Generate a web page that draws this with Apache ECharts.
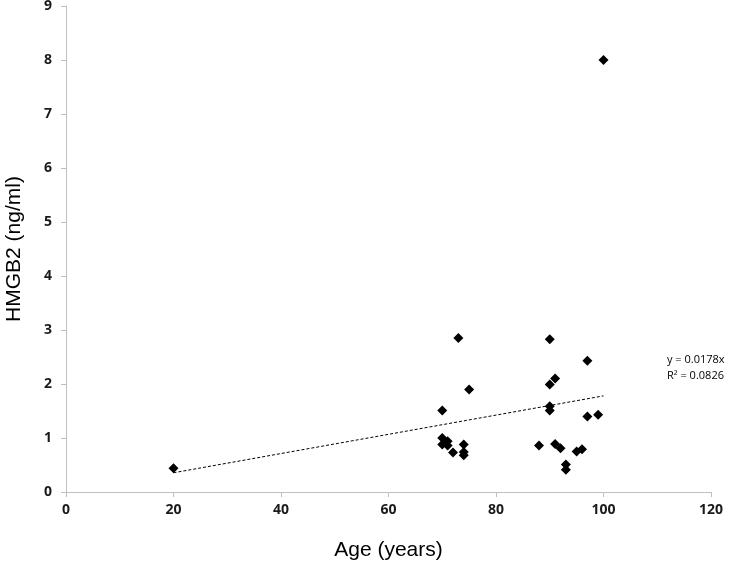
<!DOCTYPE html>
<html><head><meta charset="utf-8">
<script src="https://cdn.jsdelivr.net/npm/echarts@6/dist/echarts.min.js"></script>
<style>html,body{margin:0;padding:0;background:#fff}#c{width:734px;height:562px}</style>
</head><body><div id="c"></div>
<script>
const ages = [20, 73, 75, 70, 70, 70, 71, 71, 72, 74, 74, 74, 88, 91, 92, 95, 96, 93, 93, 90, 90, 91, 90, 90, 97, 97, 99, 100];
const hmgb2 = [0.44, 2.85, 1.90, 1.51, 1.00, 0.88, 0.94, 0.86, 0.73, 0.88, 0.74, 0.68, 0.86, 0.89, 0.81, 0.75, 0.79, 0.51, 0.41, 2.83, 1.99, 2.10, 1.59, 1.51, 2.43, 1.40, 1.43, 8.00];
const slope = 0.0178;
const trendX = [20, 100];
const eqLines = ['y = 0.0178x', 'R² = 0.0826'];
const xTicks = [0, 20, 40, 60, 80, 100, 120];
const yTicks = [0, 1, 2, 3, 4, 5, 6, 7, 8, 9];

const chart = echarts.init(document.getElementById('c'));
const tickFont = 'Open Sans, Liberation Sans, sans-serif';
const titleFont = 'Liberation Sans, Arial, sans-serif';
chart.setOption({
  animation: false,
  grid: {left: 66, right: 23, top: 6, bottom: 70, containLabel: false, outerBoundsMode: 'none'},
  xAxis: {
    type: 'value', min: xTicks[0], max: xTicks[xTicks.length-1], interval: 20,
    name: 'Age (years)', nameLocation: 'middle', nameGap: 48,
    nameTextStyle: {fontSize: 21, color: '#000', fontFamily: titleFont},
    axisLine: {lineStyle: {color: '#bfbfbf'}},
    axisTick: {show: true, length: 5, lineStyle: {color: '#bfbfbf'}},
    axisLabel: {fontSize: 14, fontWeight: 'bold', color: '#1a1a1a', fontFamily: tickFont, margin: 11},
    splitLine: {show: false}
  },
  yAxis: {
    type: 'value', min: yTicks[0], max: yTicks[yTicks.length-1], interval: 1,
    name: 'HMGB2 (ng/ml)', nameLocation: 'middle', nameGap: 41,
    nameTextStyle: {fontSize: 21, color: '#000', fontFamily: titleFont},
    axisLine: {show: true, lineStyle: {color: '#bfbfbf'}},
    axisTick: {show: true, length: 5, lineStyle: {color: '#bfbfbf'}},
    axisLabel: {fontSize: 14, fontWeight: 'bold', color: '#1a1a1a', fontFamily: tickFont, margin: 14},
    splitLine: {show: false}
  },
  series: [
    {
      type: 'line', data: trendX.map(x => [x, slope * x]), showSymbol: false, symbol: 'none',
      lineStyle: {color: '#000', width: 1, type: [3, 2]}, silent: true, z: 1
    },
    {
      type: 'scatter', data: ages.map((a, i) => [a, hmgb2[i]]),
      symbol: 'diamond', symbolSize: [10, 10], itemStyle: {color: '#000', opacity: 1}, z: 2
    }
  ],
  graphic: [{
    type: 'text', left: 667, top: 352,
    style: {text: eqLines.join('\n'), fontSize: 11, lineHeight: 16, fill: '#000', fontFamily: tickFont}
  }]
});
</script></body></html>
